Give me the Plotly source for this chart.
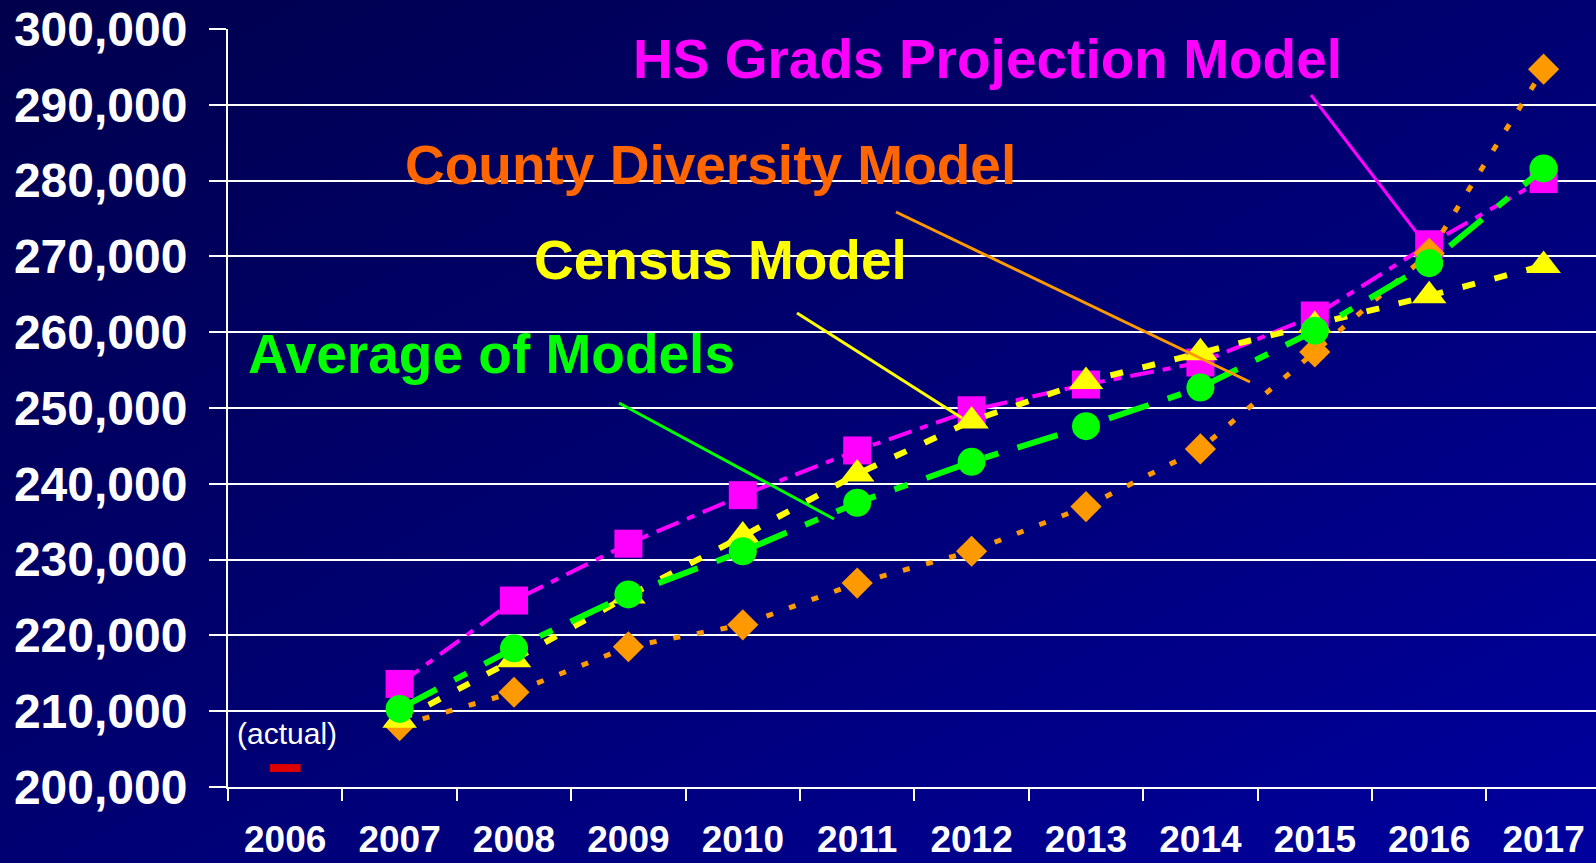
import base64
import plotly.graph_objects as go

# ---------------- data ----------------
years = ["2006", "2007", "2008", "2009", "2010", "2011", "2012", "2013", "2014", "2015", "2016", "2017"]
proj_years = years[1:]

hs_grads = [213600, 224600, 232100, 238500, 244400, 249700, 253100, 256000, 262200, 271600, 280200]
county_div = [208100, 212500, 218500, 221400, 226900, 231100, 237000, 244600, 257400, 270400, 294700]
census = [208800, 216800, 225200, 233100, 241300, 248300, 253500, 257300, 260900, 264800, 268800]
average = [210300, 218300, 225400, 231100, 237500, 242900, 247600, 252700, 260200, 269100, 281600]
actual_year = ["2006"]
actual_val = [202500]

y_ticks = list(range(200000, 300001, 10000))
y_ticktext = [f"{v:,}" for v in y_ticks]

# ---------------- geometry helpers (pixels -> paper) ----------------
W, H = 1596, 863
L, R, T, B = 228, 0, 29, 76
PW, PH = W - L - R, H - T - B


def px(x):
    return (x - L) / PW


def py(y):
    return (H - B - y) / PH


FONT = "Liberation Sans, Arial, sans-serif"

# background gradient as an SVG image
svg = (
    '<svg xmlns="http://www.w3.org/2000/svg" width="1596" height="863" preserveAspectRatio="none">'
    '<defs><linearGradient id="g" x1="0" y1="0" x2="1" y2="1">'
    '<stop offset="0" stop-color="#00004c"/>'
    '<stop offset="0.5" stop-color="#000072"/>'
    '<stop offset="1" stop-color="#00009e"/>'
    '</linearGradient></defs>'
    '<rect width="1596" height="863" fill="url(#g)"/></svg>'
)
bg_uri = "data:image/svg+xml;base64," + base64.b64encode(svg.encode()).decode()

fig = go.Figure()

fig.add_trace(go.Scatter(
    x=proj_years, y=hs_grads, mode="lines+markers", name="HS Grads Projection Model",
    line=dict(color="#ff00ff", width=4, dash="24px,9px,8px,9px"),
    marker=dict(symbol="square", size=28, color="#ff00ff"),
))
fig.add_trace(go.Scatter(
    x=proj_years, y=county_div, mode="lines+markers", name="County Diversity Model",
    line=dict(color="#ff9900", width=5, dash="7px,17px"),
    marker=dict(symbol="diamond", size=24, color="#ff9900"),
))
fig.add_trace(go.Scatter(
    x=proj_years, y=census, mode="lines+markers", name="Census Model",
    line=dict(color="#ffff00", width=6, dash="13px,20px"),
    marker=dict(symbol="triangle-up", size=30, color="#ffff00"),
))
fig.add_trace(go.Scatter(
    x=proj_years, y=average, mode="lines+markers", name="Average of Models",
    line=dict(color="#00ff00", width=6, dash="42px,20px,14px,20px"),
    marker=dict(symbol="circle", size=28, color="#00ff00"),
))
fig.add_trace(go.Scatter(
    x=actual_year, y=actual_val, mode="markers", name="actual",
    marker=dict(symbol="line-ew", size=22, line=dict(color="#dd0000", width=8)),
))

fig.update_xaxes(
    type="category", categoryorder="array", categoryarray=years,
    range=[-0.5, 11.458], showgrid=False, automargin=False,
    showline=True, linecolor="white", linewidth=2,
    ticks="outside", tickson="boundaries", ticklen=12, tickwidth=2, tickcolor="white",
    tickfont=dict(family=FONT, size=37, color="white", weight="bold"),
    ticklabelstandoff=19, zeroline=False,
)
fig.update_yaxes(
    range=[200000, 300000], tickvals=y_ticks, ticktext=y_ticktext, automargin=False,
    showgrid=True, gridcolor="white", gridwidth=2,
    showline=True, linecolor="white", linewidth=2,
    ticks="outside", ticklen=17, tickwidth=2, tickcolor="white",
    tickfont=dict(family=FONT, size=48, color="white", weight="bold"),
    ticklabelstandoff=12, zeroline=False,
)

labels = [
    ("HS Grads Projection Model", "#ff00ff", 987, 59),
    ("County Diversity Model", "#ff6600", 710, 165),
    ("Census Model", "#ffff00", 720, 260),
    ("Average of Models", "#00ff00", 491, 354),
]
for text, color, cx, cy in labels:
    fig.add_annotation(
        text=f"<b>{text}</b>", xref="paper", yref="paper", x=px(cx), y=py(cy),
        xanchor="center", yanchor="middle", showarrow=False,
        font=dict(family=FONT, size=55, color=color),
    )
fig.add_annotation(
    text="(actual)", xref="paper", yref="paper", x=px(287), y=py(733),
    xanchor="center", yanchor="middle", showarrow=False,
    font=dict(family=FONT, size=30, color="white"),
)

leaders = [
    ((1311, 95), (1417, 233), "#ff00ff"),
    ((896, 212), (1250, 382), "#ff9900"),
    ((797, 313), (962, 418), "#ffff00"),
    ((619, 403), (834, 519), "#00ff00"),
]
for (x0, y0), (x1, y1), color in leaders:
    fig.add_shape(type="line", xref="paper", yref="paper",
                  x0=px(x0), y0=py(y0), x1=px(x1), y1=py(y1),
                  line=dict(color=color, width=3))

fig.add_layout_image(dict(
    source=bg_uri, xref="paper", yref="paper",
    x=px(0), y=py(0), sizex=W / PW, sizey=H / PH,
    xanchor="left", yanchor="top", sizing="stretch", layer="below",
))

fig.update_layout(
    width=W, height=H,
    margin=dict(l=L, r=R, t=T, b=B, pad=0, autoexpand=False),
    paper_bgcolor="#000066", plot_bgcolor="rgba(0,0,0,0)",
    showlegend=False,
)

fig.write_html("out.html", config={"displayModeBar": False})

# remove the default page margin so the figure fills the window exactly
with open("out.html", "r", encoding="utf-8") as f:
    html = f.read()
html = html.replace("<head>", "<head><style>html,body{margin:0;padding:0;overflow:hidden;background:#000066}</style>", 1)
with open("out.html", "w", encoding="utf-8") as f:
    f.write(html)
